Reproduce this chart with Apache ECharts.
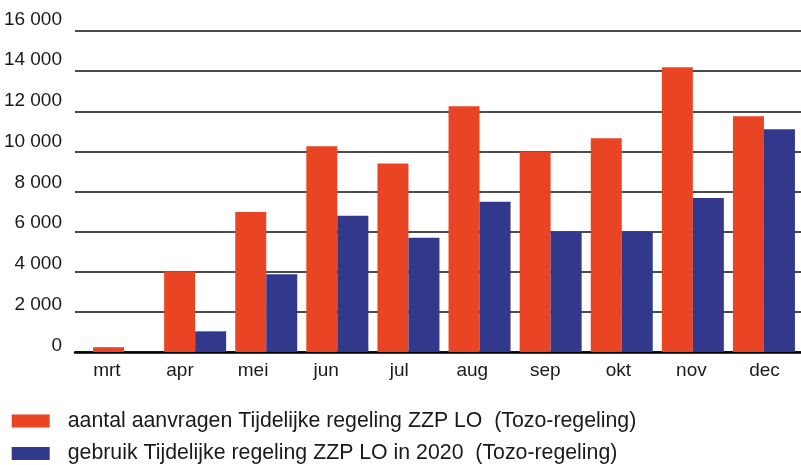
<!DOCTYPE html>
<html>
<head>
<meta charset="utf-8">
<script src="https://cdn.jsdelivr.net/npm/echarts@6/dist/echarts.min.js"></script>
<style>
  html, body { margin: 0; padding: 0; background: #fff; }
  #chart { width: 801px; height: 465px; }
</style>
</head>
<body>
<div id="chart"></div>
<script>
// Monthly Tozo figures, 2020
const months = ['mrt', 'apr', 'mei', 'jun', 'jul', 'aug', 'sep', 'okt', 'nov', 'dec'];
const aanvragen = [240, 4030, 6980, 10250, 9400, 12250, 10000, 10650, 14190, 11750];
const gebruik = [0, 1030, 3880, 6790, 5690, 7490, 6000, 6000, 7680, 11100];
const yMin = 0;
const yMax = 16000;
const yStep = 2000;

const seriesNames = [
  'aantal aanvragen Tijdelijke regeling ZZP LO  (Tozo-regeling)',
  'gebruik Tijdelijke regeling ZZP LO in 2020  (Tozo-regeling)'
];
const colors = ['#E94424', '#32388B'];

const axisFont = {
  fontFamily: "'Liberation Sans Narrow', 'Arial Narrow', 'Liberation Sans', Arial, sans-serif",
  fontSize: 19,
  color: '#1a1a1a'
};

// thousands separated by a space: 16 000
const fmt = v => String(v).replace(/\B(?=(\d{3})+(?!\d))/g, ' ');

const chart = echarts.init(document.getElementById('chart'), null, { renderer: 'canvas' });

chart.setOption({
  animation: false,
  backgroundColor: '#fff',
  color: colors,
  grid: [
    // horizontal rules
    { left: 75, right: 0, top: 31, height: 321 },
    // bars
    { left: 88.5, width: 711, top: 31, height: 321 },
    // tick labels
    { left: 70.4, width: 732, top: 19.5, height: 326 }
  ],
  xAxis: [
    {
      gridIndex: 0, type: 'category', data: months,
      axisLine: { show: true, lineStyle: { color: '#000', width: 2.5 } },
      axisTick: { show: false }, axisLabel: { show: false }, splitLine: { show: false }
    },
    {
      gridIndex: 1, type: 'category', data: months,
      axisLine: { show: false }, axisTick: { show: false }, axisLabel: { show: false }
    },
    {
      gridIndex: 2, type: 'category', data: months,
      axisLine: { show: false }, axisTick: { show: false },
      axisLabel: Object.assign({ margin: 16, interval: 0 }, axisFont)
    }
  ],
  yAxis: [
    {
      gridIndex: 0, type: 'value', min: yMin, max: yMax, interval: yStep,
      axisLine: { show: false }, axisTick: { show: false }, axisLabel: { show: false },
      splitLine: { show: true, lineStyle: { color: '#111', width: 1.5 } }
    },
    {
      gridIndex: 1, type: 'value', min: yMin, max: yMax, interval: yStep,
      axisLine: { show: false }, axisTick: { show: false }, axisLabel: { show: false },
      splitLine: { show: false }
    },
    {
      gridIndex: 2, type: 'value', min: yMin, max: yMax, interval: yStep,
      axisLine: { show: false }, axisTick: { show: false },
      splitLine: { show: false },
      axisLabel: Object.assign({ margin: 8.4, formatter: fmt }, axisFont)
    }
  ],
  legend: {
    orient: 'vertical',
    left: 11.7,
    top: 410.5,
    padding: 0,
    itemWidth: 38,
    itemHeight: 13,
    itemGap: 11.5,
    icon: 'rect',
    data: seriesNames,
    textStyle: {
      fontFamily: "'Liberation Sans', Arial, sans-serif",
      fontSize: 21.3,
      lineHeight: 21,
      color: '#1a1a1a',
      padding: [0, 0, 0, 13]
    }
  },
  series: [
    {
      name: seriesNames[0], type: 'bar', xAxisIndex: 1, yAxisIndex: 1,
      data: aanvragen, barWidth: 31, barGap: '0%',
      itemStyle: { color: colors[0] }
    },
    {
      name: seriesNames[1], type: 'bar', xAxisIndex: 1, yAxisIndex: 1,
      data: gebruik, barWidth: 31, barGap: '0%',
      itemStyle: { color: colors[1] }
    }
  ]
});
</script>
</body>
</html>
